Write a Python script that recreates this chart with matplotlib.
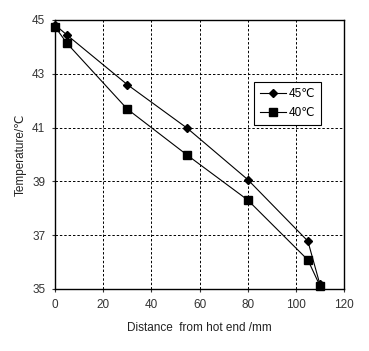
import matplotlib
matplotlib.use("Agg")
import matplotlib.pyplot as plt

plt.rcParams['font.family'] = ['Liberation Sans', 'DejaVu Sans']

# distance from hot end (mm)
dist45 = [0, 5, 30, 55, 80, 105, 110]
temp45 = [44.82, 44.44, 42.6, 40.97, 39.07, 36.78, 35.17]

dist40 = [0, 5, 30, 55, 80, 105, 110]
temp40 = [44.75, 44.13, 41.69, 39.97, 38.31, 36.08, 35.12]

xTicks = [0, 20, 40, 60, 80, 100, 120]
yTicks = [35, 37, 39, 41, 43, 45]

fig = plt.figure(figsize=(3.69, 3.51), dpi=100)
ax = fig.add_axes([55 / 369, 1 - 289 / 351, 289 / 369, 269 / 351])

ax.plot(dist45, temp45, color='black', lw=0.8, marker='D', markersize=4.5,
        label='45℃', clip_on=False, zorder=3)
ax.plot(dist40, temp40, color='black', lw=0.8, marker='s', markersize=5.5,
        label='40℃', clip_on=False, zorder=3)

ax.set_xlim(0, 120)
ax.set_ylim(35, 45)
ax.set_xticks(xTicks)
ax.set_yticks(yTicks)
ax.tick_params(labelsize=8.5, length=2, width=0.8, pad=5, colors='#333333')
ax.grid(True, color='black', linestyle=(0, (2.5, 2)), linewidth=0.7)
for s in ax.spines.values():
    s.set_linewidth(1.0)

ax.set_xlabel('Distance  from hot end /mm', fontsize=8.5, labelpad=8, color='#222222')
ax.set_ylabel('Temperature/℃', fontsize=8.5, labelpad=4, color='#222222')

leg = ax.legend(loc='upper left', bbox_to_anchor=(0.69, 0.77), fontsize=8.5,
                frameon=True, fancybox=False, edgecolor='black', framealpha=1,
                handlelength=2.2, borderpad=0.5, labelspacing=0.6, handletextpad=0.2,
                borderaxespad=0)
leg.get_frame().set_linewidth(0.8)

fig.savefig('out.png', dpi=100)
